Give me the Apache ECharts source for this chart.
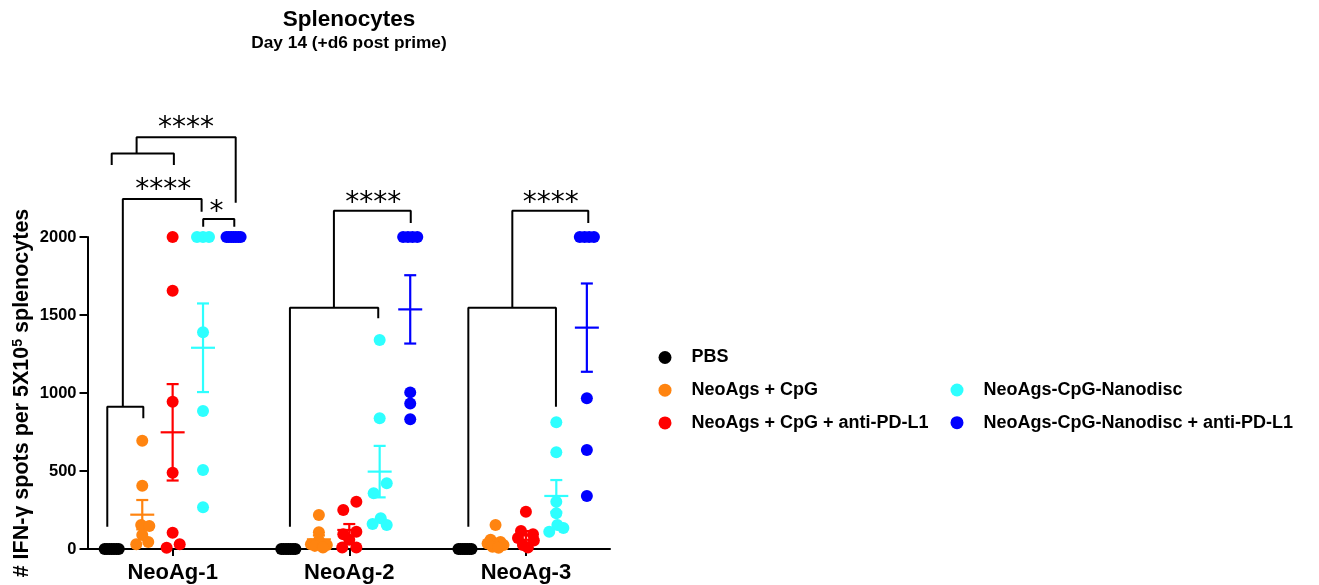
<!DOCTYPE html>
<html><head><meta charset="utf-8">
<script src="https://cdn.jsdelivr.net/npm/echarts@6/dist/echarts.min.js"></script>
<style>html,body{margin:0;padding:0;background:#fff}#c{width:1319px;height:585px}</style>
</head><body><div id="c"></div>
<script>
// ---------------- DATA ----------------
const categories = ['NeoAg-1', 'NeoAg-2', 'NeoAg-3'];
const groups = ['PBS', 'NeoAgs + CpG', 'NeoAgs + CpG + anti-PD-L1', 'NeoAgs-CpG-Nanodisc', 'NeoAgs-CpG-Nanodisc + anti-PD-L1'];
const yTicks = [0, 500, 1000, 1500, 2000];

// individual animals, per category
const pbsValues   = [[0,0,0,0,0,0,0], [0,0,0,0,0,0,0], [0,0,0,0,0,0,0]];
const cpgValues   = [[694,406,154,148,90,30,45], [218,107,55,30,25,20,10], [154,60,45,35,25,15,8]];
const cpgPdValues = [[2000,1656,944,489,104,8,30], [303,250,111,95,10,10,60], [239,115,95,70,55,25,10]];
const ndValues    = [[2000,2000,2000,1389,885,506,267], [1340,838,421,357,197,160,154], [812,620,303,229,154,135,111]];
const ndPdValues  = [[2000,2000,2000,2000,2000,2000,2000], [2000,2000,2000,2000,1004,933,831], [2000,2000,2000,2000,966,635,340]];

// horizontal scatter jitter (category-width units)
const pbsJitter   = [[-0.04,-0.027,-0.013,0,0.013,0.027,0.04], [-0.04,-0.027,-0.013,0,0.013,0.027,0.04], [-0.037,-0.025,-0.012,0,0.012,0.025,0.037]];
const cpgJitter   = [[0,0,-0.006,0.04,0,-0.034,0.034], [0,0,0,-0.045,0.045,-0.023,0.023], [0,-0.028,0.028,-0.045,0.045,-0.017,0.017]];
const cpgPdJitter = [[0,0,0,0,0,-0.034,0.04], [0.04,-0.034,0.04,-0.034,-0.04,0.04,0], [0,-0.028,0.04,-0.045,0.045,-0.017,0.011]];
const ndJitter    = [[-0.034,0,0.034,0,0,0,0], [0,0,0.04,-0.034,0.006,-0.04,0.04], [0,0,0,0,0.006,0.04,-0.04]];
const ndPdJitter  = [[-0.04,-0.027,-0.013,0,0.013,0.027,0.04], [-0.04,-0.013,0.013,0.04,0,0,0], [-0.04,-0.013,0.013,0.04,0,0,0]];

// mean and SEM per category
const pbsMean = [0,0,0],        pbsSem = [0,0,0];
const cpgMean = [220,62,45],    cpgSem = [94,25,20];
const cpgPdMean = [748,122,87], cpgPdSem = [309,38,28];
const ndMean = [1290,496,340],  ndSem = [284,165,102];
const ndPdMean = [2000,1536,1419], ndPdSem = [0,219,283];

// significance brackets (polylines in data units)
const bracketLines = [
  [[-0.370,143],[-0.370,912],[-0.166,912],[-0.166,838]],
  [[-0.282,912],[-0.282,2244],[0.164,2244],[0.164,2162]],
  [[0.173,2066],[0.173,2115],[0.349,2115],[0.349,2066]],
  [[-0.345,2462],[-0.345,2536],[0.007,2536],[0.007,2462]],
  [[-0.204,2536],[-0.204,2639],[0.357,2639],[0.357,2220]],
  [[0.664,143],[0.664,1547],[1.164,1547],[1.164,1479]],
  [[0.913,1547],[0.913,2169],[1.348,2169],[1.348,2090]],
  [[1.674,143],[1.674,1547],[2.170,1547],[2.170,912]],
  [[1.923,1547],[1.923,2169],[2.353,2169],[2.353,2090]]
];
const sigX = [0.075, -0.053, 0.249, 1.136, 2.140];
const sigY = [2733, 2333, 2194, 2254, 2254];
const sigText = ['****', '****', '*', '****', '****'];

// ---------------- BUILD ----------------
const colors = ['#000000', '#FF8410', '#FF0000', '#2EFFFF', '#0000FF'];
const groupOffset = [-0.345, -0.172, 0, 0.172, 0.345];
const allValues = [pbsValues, cpgValues, cpgPdValues, ndValues, ndPdValues];
const allJitter = [pbsJitter, cpgJitter, cpgPdJitter, ndJitter, ndPdJitter];
const allMean = [pbsMean, cpgMean, cpgPdMean, ndMean, ndPdMean];
const allSem = [pbsSem, cpgSem, cpgPdSem, ndSem, ndPdSem];
const FONT = '"Liberation Sans", Arial, Helvetica, sans-serif';

const series = [];
bracketLines.forEach((pts, i) => {
  series.push({
    name: 'bracket' + i, type: 'line', data: pts, showSymbol: false, symbol: 'none',
    clip: false, silent: true, lineStyle: { color: '#000', width: 2 }, z: 1
  });
});
groups.forEach((g, gi) => {
  const ebData = categories.map((c, ci) => [ci + groupOffset[gi], allMean[gi][ci], allSem[gi][ci]]);
  series.push({
    name: g + ' err', type: 'custom', data: ebData, clip: false, silent: true, z: 2,
    renderItem: function (params, api) {
      const x = api.value(0), m = api.value(1), s = api.value(2);
      const pm = api.coord([x, m]);
      const pt = api.coord([x, m + s]);
      const pb = api.coord([x, m - s]);
      const st = { stroke: colors[gi], lineWidth: 2.2, fill: null };
      const ch = [{ type: 'line', shape: { x1: pm[0] - 12, y1: pm[1], x2: pm[0] + 12, y2: pm[1] }, style: st }];
      if (s > 0) {
        ch.push({ type: 'line', shape: { x1: pt[0], y1: pt[1], x2: pb[0], y2: pb[1] }, style: st });
        ch.push({ type: 'line', shape: { x1: pt[0] - 6, y1: pt[1], x2: pt[0] + 6, y2: pt[1] }, style: st });
        ch.push({ type: 'line', shape: { x1: pb[0] - 6, y1: pb[1], x2: pb[0] + 6, y2: pb[1] }, style: st });
      }
      return { type: 'group', children: ch };
    }
  });
});
groups.forEach((g, gi) => {
  const pts = [];
  categories.forEach((c, ci) => {
    allValues[gi][ci].forEach((v, i) => pts.push([ci + groupOffset[gi] + allJitter[gi][ci][i], v]));
  });
  series.push({
    name: g, type: 'scatter', data: pts, symbol: 'circle', symbolSize: 12, clip: false,
    itemStyle: { color: colors[gi], opacity: 1 }, z: 3, silent: true
  });
});
series.push({
  name: 'sig', type: 'custom', clip: false, silent: true, z: 4,
  data: sigX.map((x, i) => [x, sigY[i], i]),
  renderItem: function (params, api) {
    const p = api.coord([api.value(0), api.value(1)]);
    return { type: 'text', x: p[0], y: p[1] + 6,
      style: { text: sigText[api.value(2)], fill: '#000', font: '28px "DejaVu Sans", sans-serif', align: 'center', verticalAlign: 'middle' } };
  }
});

const chart = echarts.init(document.getElementById('c'), null, { renderer: 'canvas' });
chart.setOption({
  animation: false,
  backgroundColor: '#ffffff',
  graphic: [
    { type: 'text', x: 349, y: 19.5, style: { text: 'Splenocytes', fill: '#000', font: 'bold 22.5px ' + FONT, align: 'center', verticalAlign: 'middle' } },
    { type: 'text', x: 349, y: 43, style: { text: 'Day 14 (+d6 post prime)', fill: '#000', font: 'bold 17.3px ' + FONT, align: 'center', verticalAlign: 'middle' } }
  ],
  legend: [
    { data: groups.slice(0, 3), orient: 'vertical', left: 653.5, top: 343.5, itemWidth: 43, itemHeight: 13, itemGap: 14.7,
      icon: 'circle', selectedMode: false, textStyle: { fontSize: 18, fontWeight: 'bold', color: '#000', fontFamily: FONT } },
    { data: groups.slice(3), orient: 'vertical', left: 945.5, top: 376, itemWidth: 43, itemHeight: 13, itemGap: 14.7,
      icon: 'circle', selectedMode: false, textStyle: { fontSize: 18, fontWeight: 'bold', color: '#000', fontFamily: FONT } }
  ],
  grid: { left: 87.5, top: 237, width: 522.5, height: 312, containLabel: false },
  xAxis: {
    type: 'value', min: -0.482, max: 2.476,
    axisLine: { show: true, onZero: false, lineStyle: { color: '#000', width: 2 } },
    axisTick: { show: true, customValues: [0, 1, 2], length: 7, lineStyle: { color: '#000', width: 2 } },
    axisLabel: { customValues: [0, 1, 2], formatter: v => categories[Math.round(v)], margin: 13,
      fontSize: 22, fontWeight: 'bold', color: '#000', fontFamily: FONT },
    splitLine: { show: false }
  },
  yAxis: {
    type: 'value', min: yTicks[0], max: yTicks[yTicks.length - 1], interval: 500,
    name: '# IFN-γ spots per 5X10{sup|5} splenocytes', nameLocation: 'middle', nameRotate: 90, nameGap: 54,
    nameTextStyle: { fontSize: 21.5, fontWeight: 'bold', color: '#000', fontFamily: FONT,
      rich: { sup: { fontSize: 14, fontWeight: 'bold', color: '#000', fontFamily: FONT, verticalAlign: 'top', lineHeight: 14 } } },
    axisLine: { show: true, onZero: false, lineStyle: { color: '#000', width: 2 } },
    axisTick: { show: true, length: 8, lineStyle: { color: '#000', width: 2 } },
    axisLabel: { margin: 11, fontSize: 16.5, fontWeight: 'bold', color: '#000', fontFamily: FONT, formatter: v => String(v) },
    splitLine: { show: false }
  },
  series: series
});
</script></body></html>
